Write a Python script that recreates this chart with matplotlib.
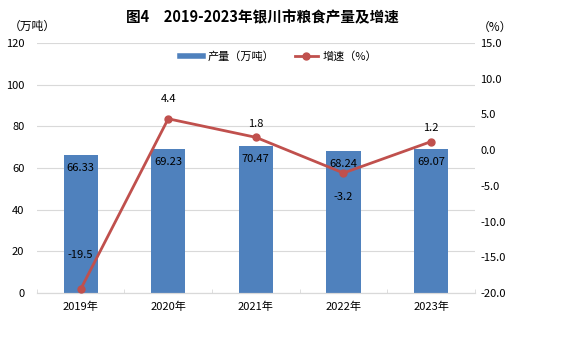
import matplotlib.pyplot as plt
from matplotlib.lines import Line2D
import numpy as np

plt.rcParams["font.family"] = ["Noto Sans CJK SC", "DejaVu Sans"]
plt.rcParams["axes.unicode_minus"] = False

years = ["2019年", "2020年", "2021年", "2022年", "2023年"]
output = [66.33, 69.23, 70.47, 68.24, 69.07]
growth = [-19.5, 4.4, 1.8, -3.2, 1.2]

BAR_COLOR = "#4F81BD"
LINE_COLOR = "#C0504D"
GRID_COLOR = "#D9D9D9"

fig = plt.figure(figsize=(5.66, 3.45), dpi=100)
ax = fig.add_axes([0.065, 0.151, 0.774, 0.724])
ax2 = ax.twinx()

x = np.arange(len(years))
bars = ax.bar(x, output, width=0.39, color=BAR_COLOR, zorder=2)
ax.set_xlim(-0.5, len(years) - 0.5)
ax.set_ylim(0, 120)
ax.set_yticks(np.arange(0, 121, 20))
ax.yaxis.grid(True, color=GRID_COLOR, linewidth=0.8, zorder=0)
ax.set_axisbelow(True)
ax.set_xticks(x)
ax.set_xticklabels(years, fontsize=8)
ax.tick_params(axis="x", length=0, pad=6)
ax.set_xticks(np.arange(-0.5, len(years), 1), minor=True)
ax.tick_params(axis="x", which="minor", direction="in", length=3, color=GRID_COLOR)
ax.tick_params(axis="y", length=0, labelsize=8, pad=9)

for b, v in zip(bars, output):
    ax.annotate(f"{v:.2f}", (b.get_x() + b.get_width() / 2, v),
                xytext=(0, -13), textcoords="offset pixels",
                ha="center", va="center", fontsize=8, color="black")

line, = ax2.plot(x, growth, color=LINE_COLOR, linewidth=2, marker="o",
                 markersize=5, zorder=3)
ax2.set_ylim(-20, 15)
ax2.set_yticks(np.arange(-20, 16, 5))
ax2.set_yticklabels([f"{t:.1f}" for t in np.arange(-20, 16, 5)])
ax2.tick_params(axis="y", length=0, labelsize=8, pad=4)

offsets = [34, 20, 13, -24, 14]
for xi, g, off in zip(x, growth, offsets):
    ax2.annotate(f"{g:.1f}", (xi, g), xytext=(0, off), textcoords="offset pixels",
                 ha="center", va="center", fontsize=8, color="black")

for a in (ax, ax2):
    for side in ("top", "left", "right"):
        a.spines[side].set_visible(False)
    a.spines["bottom"].set_color(GRID_COLOR)

fig.text(0.463, 0.95, "图4　2019-2023年银川市粮食产量及增速", ha="center", va="center",
         fontsize=10.5, fontweight="bold")
fig.text(0.057, 0.925, "（万吨）", ha="center", va="center", fontsize=8.5)
fig.text(0.875, 0.92, "（%）", ha="center", va="center", fontsize=8.5)

bar_handle = Line2D([], [], color=BAR_COLOR, linewidth=4)
fig.legend(handles=[bar_handle, line], labels=["产量（万吨）", "增速（%）"],
           loc="center", bbox_to_anchor=(0.492, 0.835), ncol=2, frameon=False,
           fontsize=8, handlelength=2.1, handletextpad=0.4, columnspacing=1.8)

fig.savefig("out.png", dpi=100)
